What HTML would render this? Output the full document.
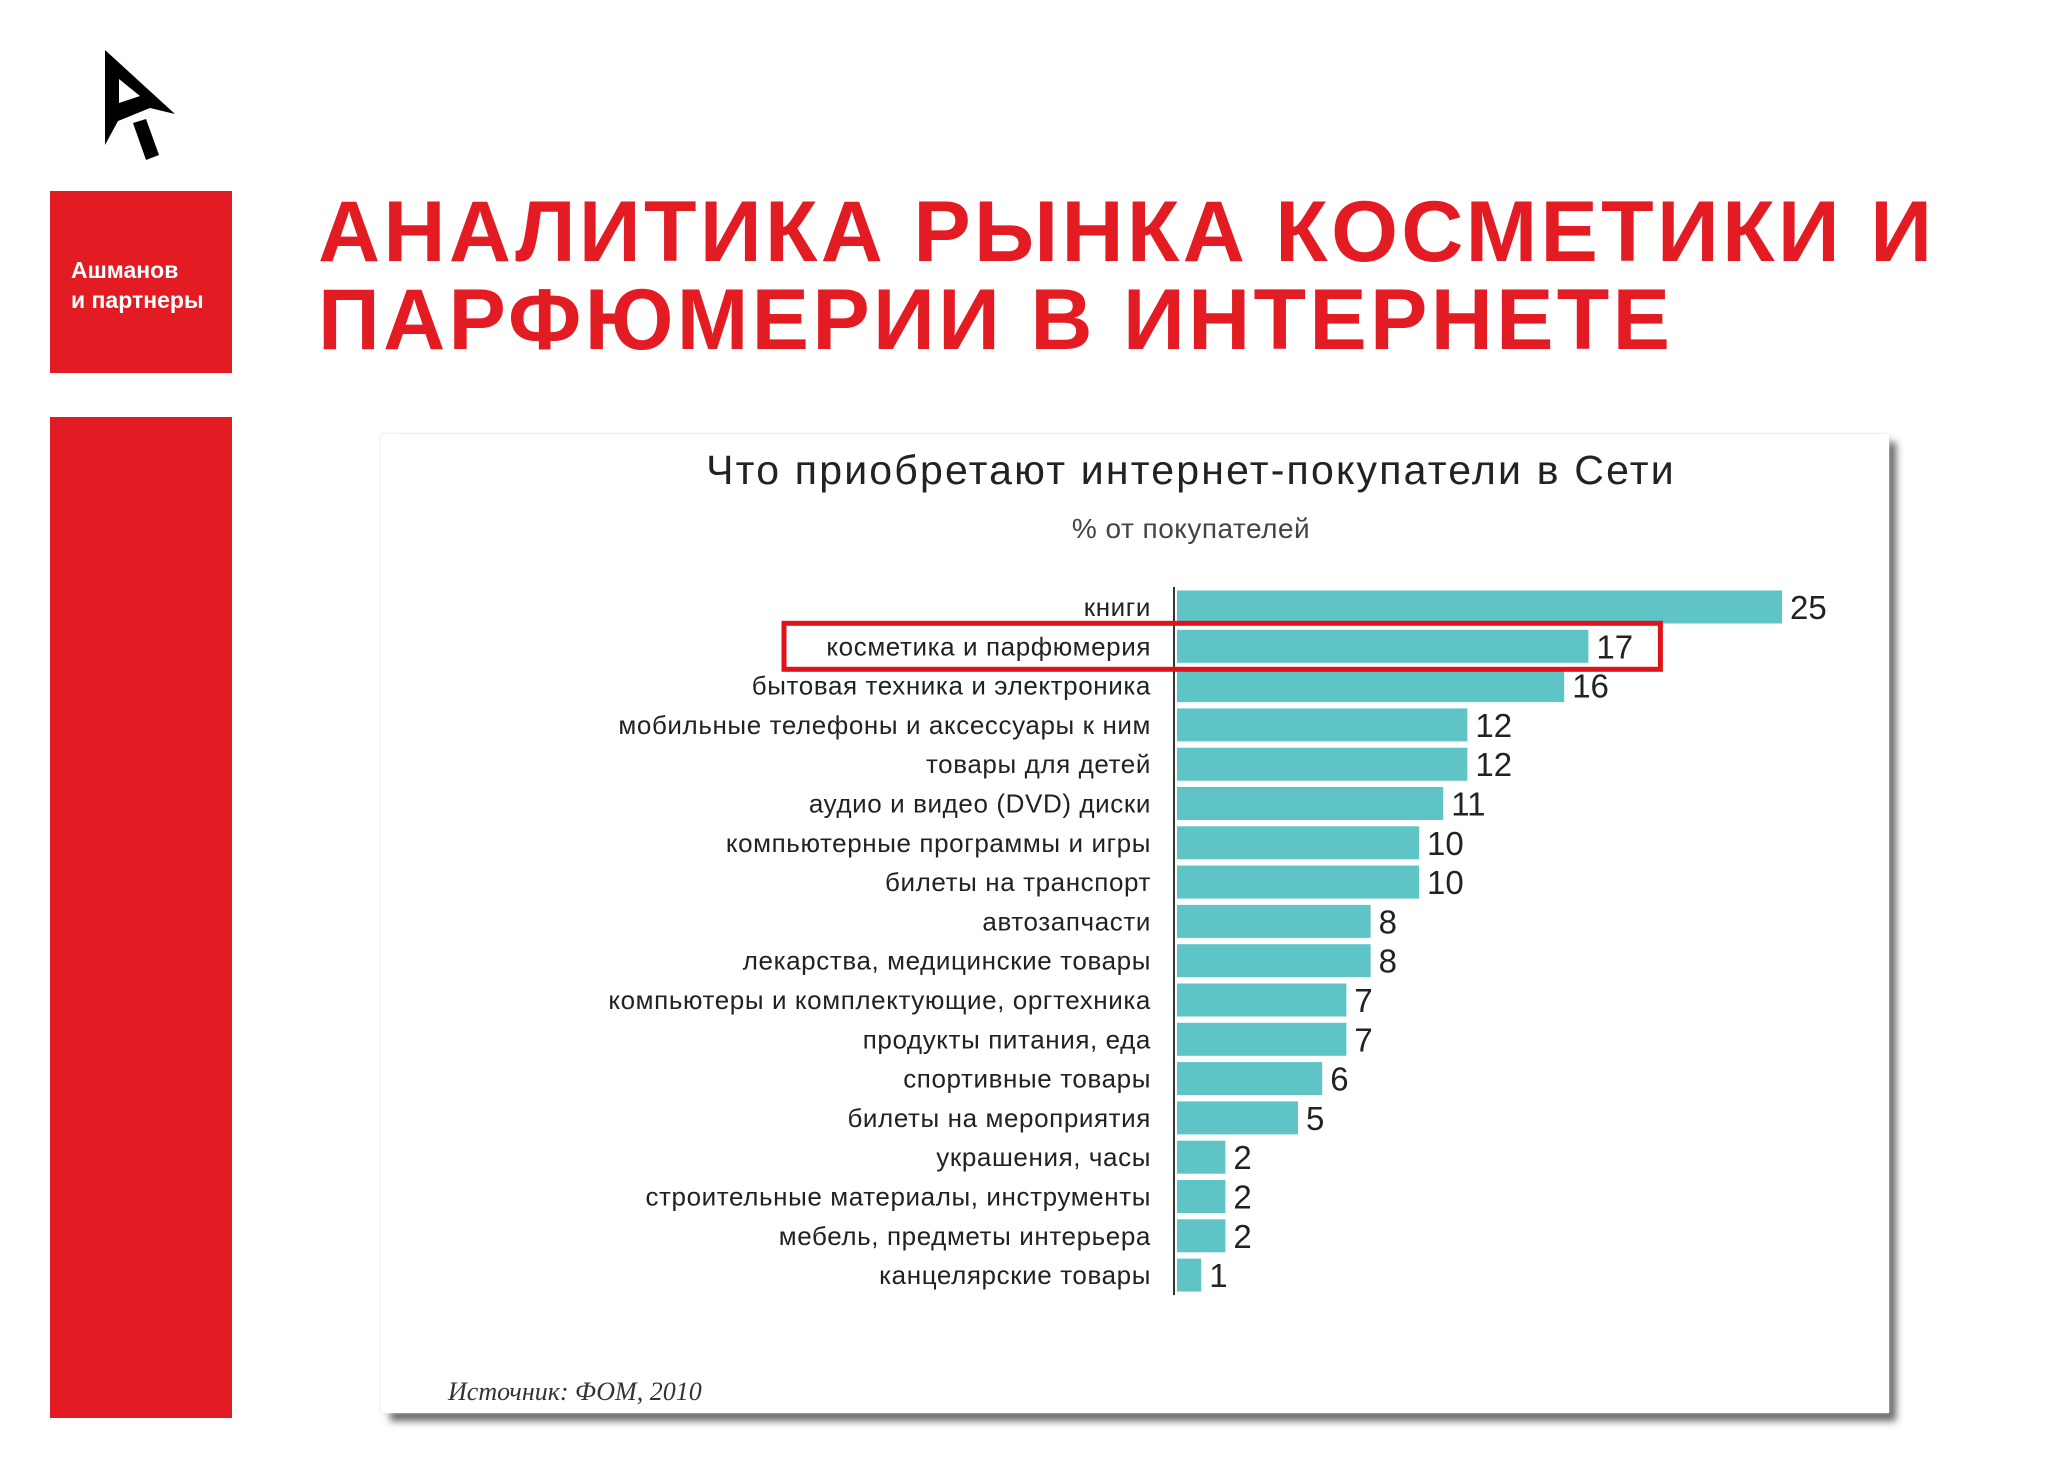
<!DOCTYPE html>
<html><head><meta charset="utf-8"><style>
body{margin:0;width:2048px;height:1483px;background:#fff;position:relative;overflow:hidden;font-family:"Liberation Sans",sans-serif}
.abs{position:absolute}
</style></head><body>
<svg class="abs" style="left:0;top:0" width="250" height="180">
<path fill-rule="evenodd" d="M105,50 L175,114 L150,108 L118,121 L105,145 Z M119,79 L119,103 L140,96 Z" fill="#000"/>
<path d="M133,123 L146,119 L159,155 L146,160 Z" fill="#000"/>
</svg>
<div class="abs" style="left:50px;top:191px;width:182px;height:182px;background:#e31b23"></div>
<div class="abs" style="left:71px;top:255px;color:#fff;font-weight:bold;font-size:23px;line-height:30px">Ашманов<br>и партнеры</div>
<div class="abs" style="left:50px;top:417px;width:182px;height:1001px;background:#e31b23"></div>
<div class="abs" style="left:318px;top:188px;color:#e31b23;font-weight:bold;font-size:86px;line-height:88px;letter-spacing:3.3px;white-space:nowrap">АНАЛИТИКА РЫНКА КОСМЕТИКИ И<br>ПАРФЮМЕРИИ В ИНТЕРНЕТЕ</div>
<div class="abs" style="left:390px;top:442px;width:1506px;height:979px;background:#666;filter:blur(4px)"></div>
<div class="abs" style="left:381px;top:434px;width:1508px;height:979px;background:#fff;box-shadow:0 0 3px #ddd"></div>
<svg class="abs" style="left:0;top:0" width="2048" height="1483" id="chart">
<text x="1191" y="484" text-anchor="middle" font-size="41" letter-spacing="2.2" fill="#222">Что приобретают интернет-покупатели в Сети</text>
<text x="1191" y="538" text-anchor="middle" font-size="28" letter-spacing="0.5" fill="#444">% от покупателей</text>
<text x="448" y="1400" font-size="26" font-style="italic" font-family="Liberation Serif,serif" fill="#333">Источник: ФОМ, 2010</text>
</svg>
<script>
const categories=["книги","косметика и парфюмерия","бытовая техника и электроника","мобильные телефоны и аксессуары к ним","товары для детей","аудио и видео (DVD) диски","компьютерные программы и игры","билеты на транспорт","автозапчасти","лекарства, медицинские товары","компьютеры и комплектующие, оргтехника","продукты питания, еда","спортивные товары","билеты на мероприятия","украшения, часы","строительные материалы, инструменты","мебель, предметы интерьера","канцелярские товары"];
const values=[25,17,16,12,12,11,10,10,8,8,7,7,6,5,2,2,2,1];
const highlightIndex=1;
const svg=document.getElementById('chart');
const NS='http://www.w3.org/2000/svg';
const x0=1177, unit=24.2, y0=607, step=39.3, bh=33;
const xs=v=>x0+v*unit;
const ys=i=>y0+i*step;
const ax=document.createElementNS(NS,'line');
ax.setAttribute('x1',1174);ax.setAttribute('x2',1174);ax.setAttribute('y1',ys(0)-20);ax.setAttribute('y2',ys(values.length-1)+20);
ax.setAttribute('stroke','#333');ax.setAttribute('stroke-width','2');


svg.appendChild(ax);
values.forEach((v,i)=>{
 const r=document.createElementNS(NS,'rect');
 r.setAttribute('x',x0);r.setAttribute('y',ys(i)-bh/2);r.setAttribute('width',xs(v)-x0);r.setAttribute('height',bh);r.setAttribute('fill','#5fc4c6');
 
 
 svg.appendChild(r);
 const t=document.createElementNS(NS,'text');
 t.setAttribute('x',xs(v)+8);t.setAttribute('y',ys(i)+12);t.setAttribute('font-size','33');t.setAttribute('fill','#222');
 t.textContent=v;
 
 
 svg.appendChild(t);
 const l=document.createElementNS(NS,'text');
 l.setAttribute('x',1151);l.setAttribute('y',ys(i)+9);l.setAttribute('font-size','26');l.setAttribute('letter-spacing','0.6');l.setAttribute('text-anchor','end');l.setAttribute('fill','#222');
 l.textContent=categories[i];
 
 
 svg.appendChild(l);
});
const hb=document.createElementNS(NS,'rect');
hb.setAttribute('x',784);hb.setAttribute('y',ys(highlightIndex)-23);hb.setAttribute('width',xs(values[highlightIndex])-784+72);hb.setAttribute('height',46);
hb.setAttribute('fill','none');hb.setAttribute('stroke','#e0121a');hb.setAttribute('stroke-width','5');


svg.appendChild(hb);
</script>
</body></html>
